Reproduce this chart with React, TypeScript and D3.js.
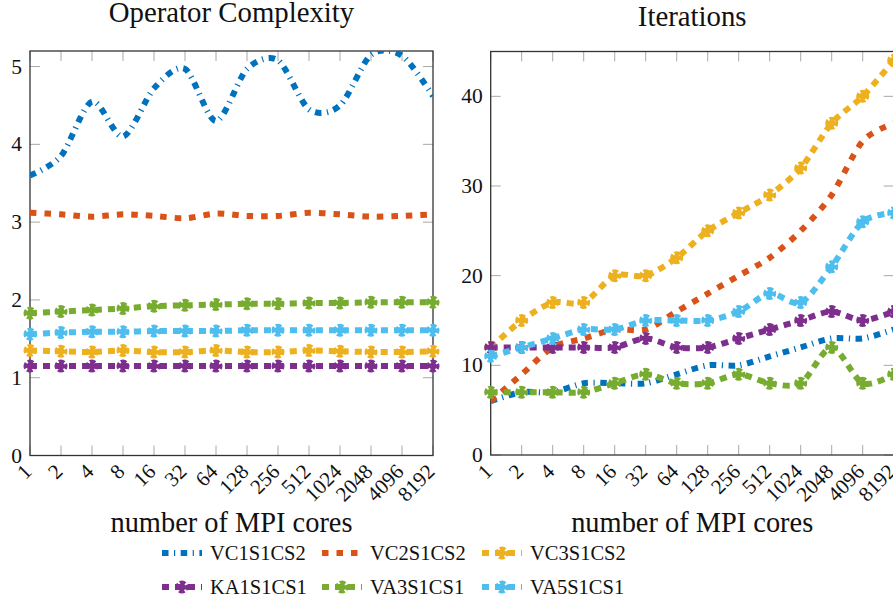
import React from 'react';
import * as d3 from 'd3';

// Core counts on the shared x axis
const CORES = ['1', '2', '4', '8', '16', '32', '64', '128', '256', '512', '1024', '2048', '4096', '8192'];

const SERIES_NAMES = ['VC1S1CS2', 'VC2S1CS2', 'VC3S1CS2', 'KA1S1CS1', 'VA3S1CS1', 'VA5S1CS1'];

// Operator complexity per solver configuration
const OC_VC1 = [3.6, 3.85, 4.55, 4.1, 4.72, 4.97, 4.3, 4.97, 5.08, 4.45, 4.5, 5.15, 5.14, 4.62];
const OC_VC2 = [3.12, 3.1, 3.07, 3.1, 3.08, 3.05, 3.11, 3.08, 3.08, 3.12, 3.1, 3.07, 3.08, 3.1];
const OC_VC3 = [1.35, 1.34, 1.33, 1.35, 1.33, 1.33, 1.35, 1.33, 1.33, 1.35, 1.34, 1.33, 1.33, 1.34];
const OC_KA1 = [1.15, 1.15, 1.15, 1.15, 1.15, 1.15, 1.15, 1.15, 1.15, 1.15, 1.15, 1.15, 1.15, 1.15];
const OC_VA3 = [1.83, 1.85, 1.87, 1.89, 1.92, 1.93, 1.94, 1.95, 1.95, 1.96, 1.96, 1.97, 1.97, 1.97];
const OC_VA5 = [1.56, 1.58, 1.59, 1.59, 1.6, 1.6, 1.6, 1.61, 1.61, 1.61, 1.61, 1.61, 1.61, 1.61];

// Iteration counts per solver configuration
const IT_VC1 = [6, 7, 7, 8, 8, 8, 9, 10, 10, 11, 12, 13, 13, 14];
const IT_VC2 = [6, 9, 12, 13, 14, 14, 16, 18, 20, 22, 25, 29, 35, 37];
const IT_VC3 = [12, 15, 17, 17, 20, 20, 22, 25, 27, 29, 32, 37, 40, 44];
const IT_KA1 = [12, 12, 12, 12, 12, 13, 12, 12, 13, 14, 15, 16, 15, 16];
const IT_VA3 = [7, 7, 7, 7, 8, 9, 8, 8, 9, 8, 8, 12, 8, 9];
const IT_VA5 = [11, 12, 13, 14, 14, 15, 15, 15, 16, 18, 17, 21, 26, 27];

const OC_TICKS = [0, 1, 2, 3, 4, 5];
const IT_TICKS = [0, 10, 20, 30, 40];

const FONT = "'Liberation Serif', 'DejaVu Serif', 'Times New Roman', serif";
const LINE_W = 6;

const STYLES = [
  { color: '#0072BD', dash: '6.5 5.5 1.2 5.5', marker: false },
  { color: '#D95319', dash: '6.5 8', marker: false },
  { color: '#EDB120', dash: '7 6', marker: true },
  { color: '#7E2F8E', dash: '7 6', marker: true },
  { color: '#77AC30', dash: '7 6', marker: true },
  { color: '#4DBEEE', dash: '7 6', marker: true },
];

const MARK_R = 3.5;
const MARK_C = 2 * Math.PI * MARK_R;
const MARK_DASH = `${MARK_C / 4 - 1.3} 1.3`;
const MARK_OFFSET = (MARK_C / 4 - 1.3) / 2;

const textStyle = (size: number): React.CSSProperties => ({ fontFamily: FONT, fontSize: size });

function Marker({ cx, cy, color }: { cx: number; cy: number; color: string }) {
  return (
    <circle
      cx={cx}
      cy={cy}
      r={MARK_R}
      fill={color}
      stroke={color}
      strokeWidth={LINE_W}
      strokeDasharray={MARK_DASH}
      strokeDashoffset={MARK_OFFSET}
    />
  );
}

type PanelProps = {
  id: string;
  left: number;
  right: number;
  top: number;
  bottom: number;
  yMax: number;
  yTicks: number[];
  title: string;
  titleY: number;
  series: number[][];
};

function Panel({ id, left, right, top, bottom, yMax, yTicks, title, titleY, series }: PanelProps) {
  const x = d3.scalePoint<string>().domain(CORES).range([left, right]);
  const y = d3.scaleLinear().domain([0, yMax]).range([bottom, top]);
  const line = d3
    .line<number>()
    .x((_, i) => x(CORES[i]) as number)
    .y((v) => y(v))
    .curve(d3.curveCardinal.tension(0.15));
  const cx = (left + right) / 2;
  const tickLen = 10;
  return (
    <g>
      <defs>
        <clipPath id={`clip-${id}`}>
          <rect x={left} y={top} width={right - left} height={bottom - top} />
        </clipPath>
      </defs>
      <text x={cx} y={titleY} textAnchor="middle" style={textStyle(28.8)} fill="#111">
        {title}
      </text>
      {/* tick marks on all four sides */}
      <g stroke="#a8a8a8" strokeWidth={1}>
        {CORES.map((c) => (
          <g key={c}>
            <line x1={x(c)} x2={x(c)} y1={bottom} y2={bottom - tickLen} />
            <line x1={x(c)} x2={x(c)} y1={top} y2={top + tickLen} />
          </g>
        ))}
        {yTicks.map((t) => (
          <g key={t}>
            <line x1={left} x2={left + tickLen} y1={y(t)} y2={y(t)} />
            <line x1={right} x2={right - tickLen} y1={y(t)} y2={y(t)} />
          </g>
        ))}
      </g>
      <rect x={left} y={top} width={right - left} height={bottom - top} fill="none" stroke="#333" strokeWidth={1.3} />
      {yTicks.map((t) => (
        <text
          key={t}
          x={left - 8}
          y={y(t)}
          textAnchor="end"
          dominantBaseline="central"
          style={textStyle(21.5)}
          fill="#111"
        >
          {t}
        </text>
      ))}
      {CORES.map((c) => (
        <text
          key={c}
          transform={`translate(${(x(c) as number) - 2},${468}) rotate(-45)`}
          textAnchor="end"
          dominantBaseline="central"
          style={textStyle(21)}
          fill="#111"
        >
          {c}
        </text>
      ))}
      <text x={cx} y={532} textAnchor="middle" style={textStyle(28.4)} fill="#111">
        number of MPI cores
      </text>
      <g clipPath={`url(#clip-${id})`}>
        {series.map((vals, k) => (
          <path
            key={k}
            d={line(vals) || ''}
            fill="none"
            stroke={STYLES[k].color}
            strokeWidth={LINE_W}
            strokeDasharray={STYLES[k].dash}
          />
        ))}
      </g>
      {series.map((vals, k) =>
        STYLES[k].marker ? (
          <g key={k}>
            {vals.map((v, i) => (
              <Marker key={i} cx={x(CORES[i]) as number} cy={y(v)} color={STYLES[k].color} />
            ))}
          </g>
        ) : null
      )}
    </g>
  );
}

function Legend() {
  const colX = [162, 322, 482];
  const rowY = [553, 587];
  const sampleLen = 40;
  return (
    <g>
      {SERIES_NAMES.map((name, k) => {
        const col = k % 3;
        const row = Math.floor(k / 3);
        const x0 = colX[col];
        const yc = rowY[row];
        const s = STYLES[k];
        return (
          <g key={name}>
            <line
              x1={x0}
              x2={x0 + sampleLen}
              y1={yc}
              y2={yc}
              stroke={s.color}
              strokeWidth={LINE_W}
              strokeDasharray={s.dash}
            />
            {s.marker ? <Marker cx={x0 + sampleLen / 2} cy={yc} color={s.color} /> : null}
            <text x={x0 + 48} y={yc + 7} style={textStyle(20.5)} fill="#111">
              {name}
            </text>
          </g>
        );
      })}
    </g>
  );
}

export default function App() {
  return (
    <svg
      width={893}
      height={603}
      viewBox="0 0 893 603"
      style={{ position: 'absolute', left: 0, top: 0, background: '#fff' }}
    >
      <rect x={0} y={0} width={893} height={603} fill="#fff" />
      <Panel
        id="oc"
        left={30}
        right={433}
        top={51}
        bottom={455.5}
        yMax={5.2}
        yTicks={OC_TICKS}
        title="Operator Complexity"
        titleY={22}
        series={[OC_VC1, OC_VC2, OC_VC3, OC_KA1, OC_VA3, OC_VA5]}
      />
      <Panel
        id="it"
        left={490.7}
        right={893.7}
        top={51.5}
        bottom={455}
        yMax={45}
        yTicks={IT_TICKS}
        title="Iterations"
        titleY={26}
        series={[IT_VC1, IT_VC2, IT_VC3, IT_KA1, IT_VA3, IT_VA5]}
      />
      <Legend />
    </svg>
  );
}
